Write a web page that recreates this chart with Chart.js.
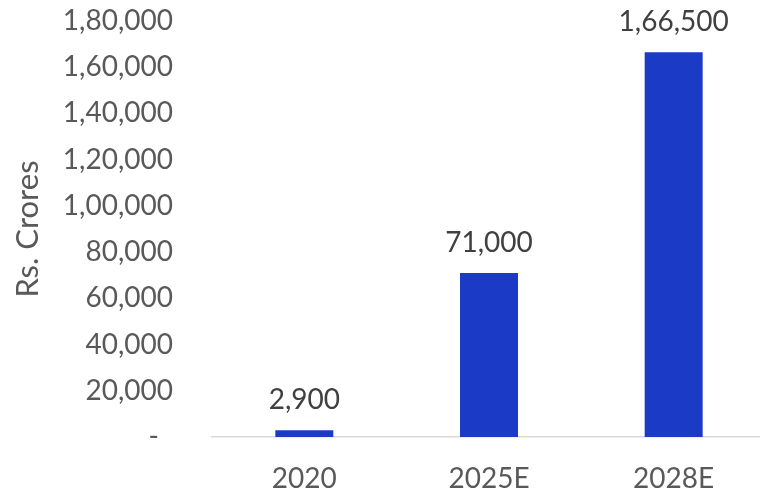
<!DOCTYPE html>
<html lang="en">
<head>
    <meta charset="UTF-8">
    <title>Rs. Crores by Year</title>
    <style>
        body {
            margin: 0;
            overflow: hidden;
            background-color: #fff;
        }
    </style>
</head>
<body>
    <canvas id="chart" width="766" height="493"></canvas>

    <script src="https://cdn.jsdelivr.net/npm/chart.js"></script>
    <script>
        const years = ['2020', '2025E', '2028E'];
        const crores = [2900, 71000, 166500];
        const yTicks = [0, 20000, 40000, 60000, 80000, 100000, 120000, 140000, 160000, 180000];

        const FONT = 'Lato, "Open Sans", sans-serif';

        // Indian digit grouping: 1,66,500
        function inr(n) {
            const s = String(Math.round(n));
            if (s.length <= 3) return s;
            let last = s.slice(-3);
            let rest = s.slice(0, -3);
            const parts = [];
            while (rest.length > 2) {
                parts.unshift(rest.slice(-2));
                rest = rest.slice(0, -2);
            }
            if (rest) parts.unshift(rest);
            return parts.join(',') + ',' + last;
        }

        // value labels above each bar
        const barLabels = {
            id: 'barLabels',
            afterDatasetsDraw(chart) {
                const ctx = chart.ctx;
                const meta = chart.getDatasetMeta(0);
                ctx.save();
                ctx.font = '28px ' + FONT;
                ctx.fillStyle = '#404040';
                ctx.textAlign = 'center';
                ctx.textBaseline = 'middle';
                meta.data.forEach((bar, i) => {
                    ctx.fillText(inr(crores[i]), bar.x, bar.y - 30);
                });
                ctx.restore();
            }
        };

        const ctx = document.getElementById('chart').getContext('2d');

        new Chart(ctx, {
            type: 'bar',
            data: {
                labels: years,
                datasets: [{
                    data: crores,
                    backgroundColor: '#1B3AC6',
                    categoryPercentage: 1,
                    barPercentage: 0.314
                }]
            },
            options: {
                responsive: false,
                animation: false,
                layout: { padding: { top: 21, left: 0, right: 0, bottom: 0 } },
                plugins: {
                    legend: { display: false },
                    tooltip: { enabled: false }
                },
                scales: {
                    x: {
                        grid: { display: false, drawTicks: false },
                        border: { display: true, color: '#d9d9d9', width: 1.5 },
                        ticks: {
                            color: '#595959',
                            font: { family: FONT, size: 28 },
                            padding: 25
                        },
                        afterFit(scale) { scale.height = 56; }
                    },
                    y: {
                        min: 0,
                        max: 180000,
                        afterBuildTicks(scale) {
                            scale.ticks = yTicks.map(v => ({ value: v }));
                        },
                        grid: { display: false, drawTicks: false },
                        border: { display: false },
                        ticks: {
                            color: '#595959',
                            font: { family: FONT, size: 28 },
                            padding: 39,
                            callback: v => v === 0 ? '-\u2002' : inr(v)
                        },
                        title: {
                            display: true,
                            text: 'Rs. Crores',
                            color: '#595959',
                            font: { family: FONT, size: 31 },
                            padding: { top: 9, bottom: 0 }
                        },
                        afterFit(scale) {
                            scale.width = 212;
                            scale.paddingTop = 0;
                            scale.paddingBottom = 0;
                        }
                    }
                }
            },
            plugins: [barLabels]
        });
    </script>
</body>
</html>
